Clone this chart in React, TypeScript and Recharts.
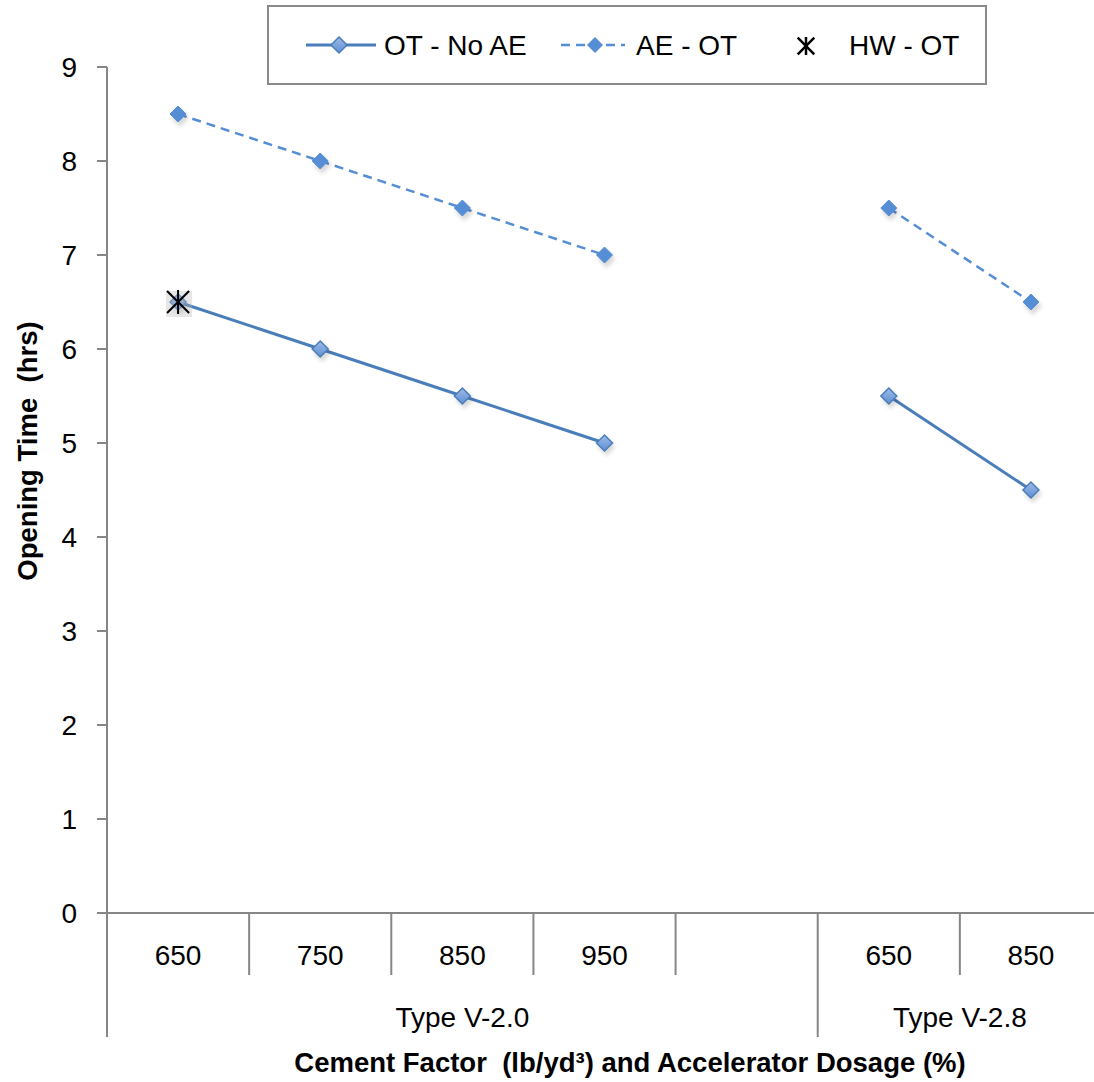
import React from 'react';
import { ComposedChart, Line, XAxis, YAxis, Legend } from 'recharts';

// categories (cement factor) — the empty slot separates the two accelerator groups
const categories = ['650', '750', '850', '950', '', '650', '850'];
const otNoAe = [6.5, 6.0, 5.5, 5.0, null, 5.5, 4.5];
const aeOt = [8.5, 8.0, 7.5, 7.0, null, 7.5, 6.5];
const hwOt = [6.5, null, null, null, null, null, null];
const groups = [
  { label: 'Type V-2.0', start: 0, span: 5 },
  { label: 'Type V-2.8', start: 5, span: 2 },
];
const yTicks = [0, 1, 2, 3, 4, 5, 6, 7, 8, 9];

const FONT = '"Liberation Sans", Arial, sans-serif';
const AXIS_GREY = '#868686';
const CHART_W = 1110;
const CHART_H = 1082;
const MARGIN = { top: 67, right: 8, bottom: 39, left: 47 };
const Y_AXIS_W = 60;
const X_AXIS_H = 130;
const PLOT_W = CHART_W - MARGIN.left - Y_AXIS_W - MARGIN.right;
const SLOT_W = PLOT_W / categories.length;

const data = categories.map((label, i) => ({
  slot: i,
  label,
  ot: otNoAe[i],
  ae: aeOt[i],
  hw: hwOt[i],
}));

function diamondPath(cx: number, cy: number, r: number) {
  return `M${cx},${cy - r}L${cx + r},${cy}L${cx},${cy + r}L${cx - r},${cy}Z`;
}

function OtDot(props: any) {
  const { cx, cy, index } = props;
  if (cx == null || cy == null || props.value == null) return <g key={`ot-${index}`} />;
  return (
    <g key={`ot-${index}`}>
      <path d={diamondPath(cx + 2, cy + 4, 9)} fill="#000" opacity={0.15} filter="url(#soft)" />
      <path d={diamondPath(cx, cy, 8)} fill="url(#otFill)" stroke="#4A7EBB" strokeWidth={1.5} />
    </g>
  );
}

function AeDot(props: any) {
  const { cx, cy, index } = props;
  if (cx == null || cy == null || props.value == null) return <g key={`ae-${index}`} />;
  return (
    <g key={`ae-${index}`}>
      <path d={diamondPath(cx + 2, cy + 4, 9)} fill="#000" opacity={0.15} filter="url(#soft)" />
      <path d={diamondPath(cx, cy, 8)} fill="#558ED5" stroke="#558ED5" strokeWidth={1} />
    </g>
  );
}

function Asterisk({ cx, cy, r, w = 2 }: { cx: number; cy: number; r: number; w?: number }) {
  const d = r * 0.92;
  return (
    <g stroke="#000" strokeWidth={w}>
      <line x1={cx} y1={cy - r} x2={cx} y2={cy + r} />
      <line x1={cx - d} y1={cy - d} x2={cx + d} y2={cy + d} />
      <line x1={cx - d} y1={cy + d} x2={cx + d} y2={cy - d} />
    </g>
  );
}

function HwDot(props: any) {
  const { cx, cy, index } = props;
  if (cx == null || cy == null || props.value == null) return <g key={`hw-${index}`} />;
  return (
    <g key={`hw-${index}`}>
      <rect x={cx - 12} y={cy - 11} width={26} height={26} fill="#bbb" opacity={0.35} />
      <Asterisk cx={cx} cy={cy} r={12} />
    </g>
  );
}

// two-level category axis: value labels, separators, and group labels beneath
function CategoryTick(props: any) {
  const { x, y, payload, index } = props;
  const left = x - SLOT_W / 2;
  const group = groups.find((g) => g.start === index);
  const isLast = index === categories.length - 1;
  return (
    <g>
      <line
        x1={left}
        y1={y}
        x2={left}
        y2={y + (group ? 124 : 62)}
        stroke={AXIS_GREY}
        strokeWidth={2}
      />
      {isLast && (
        <line x1={left + SLOT_W} y1={y} x2={left + SLOT_W} y2={y + 124} stroke={AXIS_GREY} strokeWidth={2} />
      )}
      <text x={x} y={y + 52} textAnchor="middle" fontFamily={FONT} fontSize={28} fill="#000">
        {categories[payload.value] ?? ''}
      </text>
      {group && (
        <text
          x={left + (group.span * SLOT_W) / 2}
          y={y + 114}
          textAnchor="middle"
          fontFamily={FONT}
          fontSize={28}
          fill="#000"
        >
          {group.label}
        </text>
      )}
    </g>
  );
}

function LegendBox() {
  return (
    <svg width={720} height={80} style={{ display: 'block' }}>
      <rect x={1} y={1} width={718} height={78} fill="#fff" stroke="#8a8a8a" strokeWidth={2} />
      <line x1={39} y1={40} x2={109} y2={40} stroke="#4A7EBB" strokeWidth={3} />
      <path d={diamondPath(72, 40, 8)} fill="url(#otFillLegend)" stroke="#4A7EBB" strokeWidth={1.5} />
      <text x={117} y={50} fontFamily={FONT} fontSize={28} fill="#000">
        OT - No AE
      </text>
      <line x1={294} y1={40} x2={358} y2={40} stroke="#558ED5" strokeWidth={2.5} strokeDasharray="9 6" />
      <path d={diamondPath(328, 40, 8)} fill="#558ED5" />
      <text x={369} y={50} fontFamily={FONT} fontSize={28} fill="#000">
        AE - OT
      </text>
      <Asterisk cx={539} cy={41} r={9} w={2.5} />
      <text x={582} y={50} fontFamily={FONT} fontSize={28} fill="#000">
        HW - OT
      </text>
      <defs>
        <linearGradient id="otFillLegend" x1="0" y1="0" x2="0" y2="1">
          <stop offset="0%" stopColor="#9DBBE8" />
          <stop offset="100%" stopColor="#5F8FD3" />
        </linearGradient>
      </defs>
    </svg>
  );
}

export default function App() {
  return (
    <div
      style={{
        position: 'absolute',
        left: 0,
        top: 0,
        width: 1094,
        height: 1082,
        overflow: 'hidden',
        background: '#fff',
      }}
    >
      <ComposedChart width={CHART_W} height={CHART_H} data={data} margin={MARGIN}>
        <defs>
          <linearGradient id="otFill" x1="0" y1="0" x2="0" y2="1">
            <stop offset="0%" stopColor="#9DBBE8" />
            <stop offset="100%" stopColor="#5F8FD3" />
          </linearGradient>
          <filter id="soft" x="-50%" y="-50%" width="200%" height="200%">
            <feGaussianBlur stdDeviation="2" />
          </filter>
        </defs>
        <XAxis
          dataKey="slot"
          type="category"
          scale="band"
          interval={0}
          height={X_AXIS_H}
          tickLine={false}
          tickSize={0}
          tickMargin={0}
          axisLine={{ stroke: AXIS_GREY, strokeWidth: 2 }}
          tick={<CategoryTick />}
          label={{
            content: () => (
              <text
                x={630}
                y={1072}
                textAnchor="middle"
                fontFamily={FONT}
                fontSize={27.5}
                fontWeight="bold"
                fill="#000"
              >
                Cement Factor{'\u00a0\u00a0'}(lb/yd³) and Accelerator Dosage (%)
              </text>
            ),
          }}
        />
        <YAxis
          type="number"
          domain={[0, 9]}
          ticks={yTicks}
          width={Y_AXIS_W}
          tickSize={10}
          tickMargin={20}
          axisLine={{ stroke: AXIS_GREY, strokeWidth: 2 }}
          tickLine={{ stroke: AXIS_GREY, strokeWidth: 2 }}
          tick={{ fill: '#000', fontSize: 28, fontFamily: FONT }}
          label={{
            content: () => (
              <text
                x={27}
                y={451}
                transform="rotate(-90, 27, 451)"
                textAnchor="middle"
                dominantBaseline="central"
                fontFamily={FONT}
                fontSize={27.5}
                fontWeight="bold"
                fill="#000"
              >
                Opening Time{'\u00a0\u00a0'}(hrs)
              </text>
            ),
          }}
        />
        <Legend
          layout="horizontal"
          verticalAlign="middle"
          align="center"
          wrapperStyle={{ position: 'absolute', left: 267, top: 5, width: 720, height: 80 }}
          content={() => <LegendBox />}
        />
        <Line
          dataKey="ot"
          name="OT - No AE"
          stroke="#4A7EBB"
          strokeWidth={3}
          dot={OtDot}
          activeDot={false}
          isAnimationActive={false}
        />
        <Line
          dataKey="ae"
          name="AE - OT"
          stroke="#558ED5"
          strokeWidth={2.5}
          strokeDasharray="9 6"
          dot={AeDot}
          activeDot={false}
          isAnimationActive={false}
        />
        <Line
          dataKey="hw"
          name="HW - OT"
          stroke="none"
          dot={HwDot}
          activeDot={false}
          isAnimationActive={false}
        />
      </ComposedChart>
    </div>
  );
}
